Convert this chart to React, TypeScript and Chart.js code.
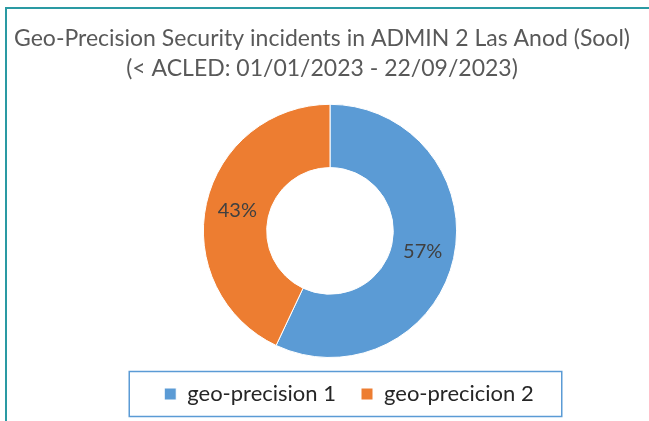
import React, { useEffect, useRef } from "react";
import { Chart, registerables } from "chart.js";

Chart.register(...registerables);

const categories = ["geo-precision 1", "geo-precicion 2"];
const values = [57, 43];
const colors = ["#5b9bd5", "#ed7d31"];
const titleLines = [
  "Geo-Precision Security incidents in ADMIN 2 Las Anod (Sool)",
  "(< ACLED: 01/01/2023 - 22/09/2023)",
];

const FONT = "Lato, 'Open Sans', sans-serif";

const framePlugin = {
  id: "frame",
  beforeDraw(chart: any) {
    const ctx = chart.ctx;
    ctx.save();
    ctx.fillStyle = "#ffffff";
    ctx.fillRect(0, 0, chart.width, chart.height);
    ctx.strokeStyle = "#2a9aa3";
    ctx.lineWidth = 2;
    ctx.beginPath();
    ctx.moveTo(6, chart.height);
    ctx.lineTo(6, 8);
    ctx.lineTo(chart.width, 8);
    ctx.stroke();
    ctx.restore();
  },
};

const shiftPlugin = {
  id: "boxShift",
  afterLayout(chart: any) {
    const lg = chart.legend;
    if (lg) {
      lg.left += 19;
      lg.right += 19;
    }
    const tb = chart.titleBlock;
    if (tb) {
      tb.left -= 8;
      tb.right -= 8;
    }
  },
};

const labelPlugin = {
  id: "sliceLabels",
  afterDatasetsDraw(chart: any) {
    const ctx = chart.ctx;
    const meta = chart.getDatasetMeta(0);
    ctx.save();
    ctx.font = `20px ${FONT}`;
    ctx.fillStyle = "#404040";
    ctx.textAlign = "center";
    ctx.textBaseline = "middle";
    meta.data.forEach((arc: any, i: number) => {
      const p = arc.getCenterPoint();
      ctx.fillText(values[i] + "%", p.x, p.y);
    });
    ctx.restore();
  },
};

const legendBoxPlugin = {
  id: "legendBox",
  afterDraw(chart: any) {
    const lg = chart.legend;
    if (!lg || !lg.legendHitBoxes || !lg.legendHitBoxes.length) return;
    const hb = lg.legendHitBoxes;
    let l = Infinity, r = -Infinity, t = Infinity, b = -Infinity;
    hb.forEach((h: any) => {
      l = Math.min(l, h.left);
      r = Math.max(r, h.left + h.width);
      t = Math.min(t, h.top);
      b = Math.max(b, h.top + h.height);
    });
    const cy = (t + b) / 2;
    const ctx = chart.ctx;
    ctx.save();
    ctx.strokeStyle = "#5b9bd5";
    ctx.lineWidth = 1.5;
    ctx.strokeRect(l - 35, cy - 22.5, r - l + 63, 45);
    ctx.restore();
  },
};

export default function App() {
  const ref = useRef<HTMLCanvasElement>(null);
  useEffect(() => {
    if (!ref.current) return;
    const chart = new Chart(ref.current, {
      type: "doughnut",
      data: {
        labels: categories,
        datasets: [
          {
            data: values,
            backgroundColor: colors,
            borderColor: "#ffffff",
            borderWidth: 1,
          },
        ],
      },
      options: {
        responsive: false,
        animation: false,
        cutout: "50%",
        layout: { padding: { top: 24, left: 11, right: 0, bottom: 6 } },
        plugins: {
          tooltip: { enabled: false },
          title: {
            display: true,
            text: titleLines,
            color: "#595959",
            font: { family: FONT, size: 23, weight: "normal", lineHeight: 1.3 },
            padding: { top: 0, bottom: 20 },
          },
          legend: {
            display: true,
            position: "bottom",
            labels: {
              boxWidth: 12,
              boxHeight: 12,
              padding: 25,
              color: "#262626",
              font: { family: FONT, size: 22 },
            },
          },
        },
      },
      plugins: [framePlugin, shiftPlugin, labelPlugin, legendBoxPlugin],
    });
    return () => chart.destroy();
  }, []);
  return (
    <div style={{ position: "fixed", left: 0, top: 0, width: 649, height: 421, background: "#fff" }}>
      <canvas ref={ref} width={649} height={421} />
    </div>
  );
}
